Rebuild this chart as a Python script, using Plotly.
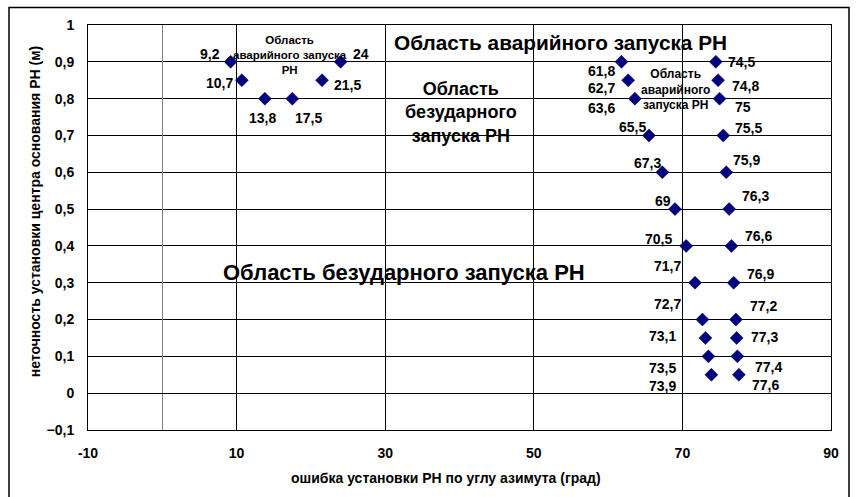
import plotly.graph_objects as go

# ошибка по азимуту (град) и неточность установки (м)
left_x = [9.2, 10.7, 13.8, 17.5, 21.5, 24]
left_y = [0.9, 0.85, 0.8, 0.8, 0.85, 0.9]

inner_x = [61.8, 62.7, 63.6, 65.5, 67.3, 69, 70.5, 71.7, 72.7, 73.1, 73.5, 73.9]
outer_x = [74.5, 74.8, 75, 75.5, 75.9, 76.3, 76.6, 76.9, 77.2, 77.3, 77.4, 77.6]
right_y = [0.9, 0.85, 0.8, 0.7, 0.6, 0.5, 0.4, 0.3, 0.2, 0.15, 0.1, 0.05]

x_ticks = [-10, 10, 30, 50, 70, 90]

# label offsets in px (dx, dy), screen up = positive dy
left_off = [(-21, 8), (-22, -3), (-2, -19), (16, -19), (25, -5), (20, 8)]
inner_off = [(-20, -9), (-27, -8), (-33, -9), (-16, 8), (-15, 9), (-12, 8),
             (-28, 7), (-28, 17), (-35, 16), (-43, 2), (-46, -12), (-49, -11)]
outer_off = [(26, 0), (27, -6), (23, -8), (25, 7), (20, 12), (26, 13),
             (27, 10), (27, 9), (28, 14), (28, 1), (31, -11), (27, -10)]

FONT = "Arial, 'Liberation Sans', sans-serif"
NAVY = "#000080"

# plot area in pixels
PL, PR, PT, PB = 88, 831, 24.5, 430


def fmt(v):
    return f"{v:g}".replace(".", ",")


def px_x(p):
    return (p - PL) / (PR - PL)


def px_y(p):
    return (PB - p) / (PB - PT)


fig = go.Figure()

all_x = left_x + inner_x + outer_x
all_y = left_y + right_y + right_y
fig.add_trace(go.Scatter(
    x=all_x, y=all_y, mode="markers",
    marker=dict(symbol="diamond", size=10, color=NAVY,
                line=dict(color="#000040", width=0.5)),
    showlegend=False, hoverinfo="x+y"))

annotations = []
for xs, ys, offs in [(left_x, left_y, left_off),
                     (inner_x, right_y, inner_off),
                     (outer_x, right_y, outer_off)]:
    for xv, yv, (dx, dy) in zip(xs, ys, offs):
        annotations.append(dict(
            x=xv, y=yv, xref="x", yref="y", text="<b>" + fmt(xv) + "</b>",
            showarrow=False, xshift=dx, yshift=dy,
            xanchor="center", yanchor="middle",
            font=dict(family=FONT, size=14, color="black")))

# region captions and axis titles, placed in pixels
captions = [
    (560, 42, "<b>Область аварийного запуска РН</b>", 20.8, 0),
    (404, 272, "<b>Область безударного запуска РН</b>", 22, 0),
    (461, 112, "<b>Область<br>безударного<br>запуска РН</b>", 18, 0),
    (290, 55, "<b>Область<br>аварийного запуска<br>РН</b>", 11.5, 0),
    (675, 89, "<b>Область<br>аварийного<br>запуска РН</b>", 12, 0),
    (446, 478, "<b>ошибка установки РН по углу азимута (град)</b>", 14, 0),
    (35, 212, "<b>неточность установки центра основания РН (м)</b>", 14, -90),
]
for cx, cy, txt, size, ang in captions:
    annotations.append(dict(
        x=px_x(cx), y=px_y(cy), xref="paper", yref="paper", text=txt,
        showarrow=False, xanchor="center", yanchor="middle", textangle=ang,
        font=dict(family=FONT, size=size, color="black")))

fig.update_layout(
    width=856, height=497,
    margin=dict(l=PL, r=856 - PR, t=PT, b=497 - PB, autoexpand=False),
    paper_bgcolor="white", plot_bgcolor="white",
    separators=", ",
    font=dict(family=FONT, color="black"),
    annotations=annotations,
    xaxis=dict(
        range=[-10, 90], tickvals=x_ticks, ticktext=[str(t) for t in x_ticks],
        showgrid=True, gridcolor="black", gridwidth=1,
        zeroline=True, zerolinecolor="#808080", zerolinewidth=1,
        showline=True, linecolor="black", linewidth=1, mirror=True,
        ticks="", ticklabelstandoff=10, automargin=False,
        tickfont=dict(size=14, family=FONT, weight="bold"),
    ),
    yaxis=dict(
        range=[-0.1, 1], dtick=0.1, tick0=0,
        showgrid=True, gridcolor="black", gridwidth=1,
        zeroline=True, zerolinecolor="black", zerolinewidth=1,
        showline=True, linecolor="black", linewidth=1, mirror=True,
        ticks="", ticklabelstandoff=10, automargin=False,
        tickfont=dict(size=14, family=FONT, weight="bold"),
    ),
    # chart-area frame; its bottom edge runs off the picture like in the original
    shapes=[dict(type="rect", xref="paper", yref="paper",
                 x0=px_x(9), x1=px_x(849), y0=px_y(510), y1=px_y(7),
                 line=dict(color="black", width=1.5))],
)

# the page body has a default margin; drop it so the figure sits at (0, 0)
fig.write_html("out.html", config={"displayModeBar": False},
               post_script="document.body.style.margin = '0';")
